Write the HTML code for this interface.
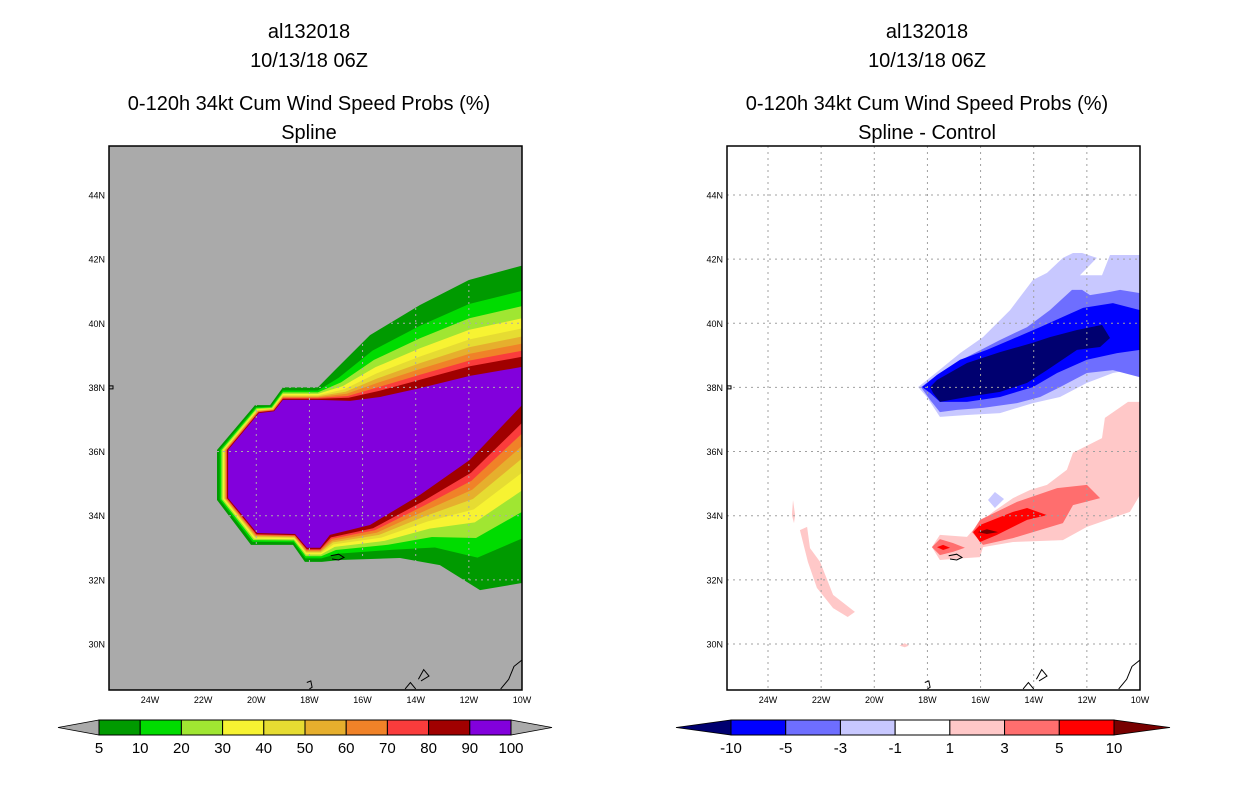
<!DOCTYPE html>
<html><head><meta charset="utf-8">
<style>
body{margin:0;background:#fff;width:1236px;height:800px;overflow:hidden;font-family:"Liberation Sans",sans-serif}
svg{position:absolute;left:0;top:0}
</style></head>
<body>
<svg id="s" width="1236" height="800">
<g font-family="Liberation Sans, sans-serif" font-size="20" text-anchor="middle" fill="#000">
<text x="309" y="38">al132018</text>
<text x="309" y="67">10/13/18 06Z</text>
<text x="309" y="110">0-120h 34kt Cum Wind Speed Probs (%)</text>
<text x="309" y="139">Spline</text>
<text x="927" y="38">al132018</text>
<text x="927" y="67">10/13/18 06Z</text>
<text x="927" y="110">0-120h 34kt Cum Wind Speed Probs (%)</text>
<text x="927" y="139">Spline - Control</text>
</g>
</svg>
<script>
// ---- data ----
const lonTicks=[24,22,20,18,16,14,12,10];
const latTicks=[44,42,40,38,36,34,32,30];
const probLevels=['5','10','20','30','40','50','60','70','80','90','100'];
const probColors=['#009a00','#00dc00','#a0e632','#f7f332','#e6dc32','#e6af2d','#f08228','#fa3c3c','#a00000','#8200dc'];
// relative position of each contour between the 5% and 90% envelopes
const probBandPos=[0,0.25,0.4,0.52,0.62,0.7,0.77,0.84,0.9,1];
const diffLevels=['-10','-5','-3','-1','1','3','5','10'];
const diffColors=['#0000ff','#6e6eff','#c8c8ff','#ffffff','#ffc8c8','#ff6e6e','#ff0000'];
// outer (5%) and inner (90%) contours, [lonW, lat]
const outer5=[[10,41.8],[12,41.35],[13.84,40.57],[15.72,39.63],[17.04,38.54],[17.68,38],[19,38],[19.48,37.45],[20.05,37.45],[21.48,36.05],[21.48,34.49],[20.2,33.09],[18.62,33.09],[18.17,32.56],[17.53,32.56],[16.85,32.62],[14.59,32.68],[13.09,32.46],[11.58,31.68],[10,31.9]];
const inner90=[[10,38.64],[11.96,38.36],[13.84,37.98],[15.34,37.7],[16.47,37.58],[17.68,37.61],[19,37.61],[19.33,37.26],[19.9,37.2],[21.06,36.05],[21.06,34.55],[19.97,33.46],[18.54,33.43],[18.09,33],[17.6,33],[17.23,33.4],[15.72,33.71],[13.84,34.65],[11.96,35.74],[10,37.45]];
const diffNeg1=[[18.35,38.01],[17.64,38.48],[16.77,39.07],[15.91,39.57],[14.89,40.41],[14.03,41.35],[13.5,41.57],[12.9,42.04],[12.52,42.19],[12.18,42.19],[11.62,42.04],[12.26,41.5],[11.43,41.5],[11.13,42.13],[10,42.13],[10,38.61],[11.02,38.45],[12,38.14],[13.01,37.7],[14.03,37.51],[15.27,37.2],[16.51,37.14],[17.53,37.08],[18.02,37.7]];
const diffNeg3=[[18.24,38.01],[17.53,38.45],[16.51,38.95],[15.27,39.48],[14.25,39.88],[13.39,40.41],[12.56,41.04],[12.18,41.04],[11.88,40.88],[11.13,40.98],[10.75,41.04],[10,40.94],[10,38.32],[11.02,38.54],[12,38.45],[13.01,38.01],[13.76,37.7],[14.63,37.51],[15.91,37.36],[16.89,37.3],[17.53,37.23],[17.9,37.61]];
const diffNeg5=[[18.2,38.01],[17.64,38.39],[16.77,38.86],[15.76,39.17],[14.89,39.48],[13.76,39.88],[12.9,40.2],[12.14,40.48],[11.02,40.63],[10,40.41],[10,39.17],[10.86,39.07],[12,38.86],[13.12,38.45],[14.03,38.01],[15.27,37.7],[16.51,37.55],[17.53,37.55],[17.9,37.83]];
const diffNeg10=[[17.9,38.01],[17.64,38.23],[16.51,38.76],[15.27,39.1],[14.03,39.39],[13.39,39.57],[12.37,39.79],[11.43,39.95],[11.13,39.54],[11.5,39.26],[12.37,39.17],[13.5,38.54],[14.25,38.14],[15.27,37.86],[16.51,37.7],[17.53,37.55],[17.79,37.83]];
const diffNegSmall=[[15.72,34.49],[15.46,34.74],[15.12,34.52],[15.46,34.24]];
const diffPos1=[[10,37.55],[10.45,37.55],[11.32,37.05],[11.43,36.42],[12.52,35.96],[12.75,35.43],[13.5,34.96],[14.14,34.8],[14.78,34.55],[15.53,34.12],[16.02,33.8],[16.51,33.34],[17.53,33.4],[17.83,33.02],[17.53,32.62],[16.51,32.68],[16.02,32.71],[15.91,33.02],[14.78,33.18],[12.9,33.24],[12,33.65],[10.38,34.12],[10,34.65]];
const diffPos1b=[[23.06,34.49],[22.98,34.02],[23.02,33.77],[23.1,34.02]];
const diffPos1c=[[22.8,33.55],[22.53,33.65],[22.42,32.99],[22.04,32.56],[21.55,31.53],[20.73,31.0],[21.0,30.84],[21.55,31.12],[22.16,31.75],[22.5,32.56]];
const diffPos1d=[[19.05,29.95],[18.85,30.02],[18.7,29.95],[18.85,29.9]];
const diffPos3=[[16.32,33.49],[16.02,33.87],[14.63,34.43],[13.12,34.86],[12,34.96],[11.5,34.55],[12.52,34.33],[12.9,33.77],[14.03,33.49],[14.78,33.3],[15.91,33.09]];
const diffPos3b=[[17.83,33.02],[17.53,33.27],[17.04,33.15],[16.59,33.0],[17.04,32.87],[17.53,32.77]];
const diffPos5=[[16.28,33.49],[16.02,33.71],[14.78,34.12],[14.25,34.24],[13.5,34.02],[14.25,33.87],[15.38,33.4],[16.02,33.18]];
const diffPos5b=[[17.64,33.02],[17.41,33.09],[17.15,33.0],[17.41,32.93]];
const diffPos10=[[16.1,33.49],[15.76,33.58],[15.34,33.49],[15.76,33.43]];

const NS='http://www.w3.org/2000/svg';
const svg=document.getElementById('s');
const X0=109,X1=522,Y0=146,Y1=690;
function xs(w,off){return off+150+(24-w)*26.571;}
function ys(lat){return 195+(44-lat)*32.07;}
function mk(tag,attrs,parent){const e=document.createElementNS(NS,tag);for(const k in attrs)e.setAttribute(k,attrs[k]);(parent||svg).appendChild(e);return e;}
function pts(arr,off){return arr.map(p=>xs(p[0],off).toFixed(1)+','+ys(p[1]).toFixed(1)).join(' ');}

function panel(off,bg,name){
  const g=mk('g',{});
  
  
  const cp=mk('clipPath',{id:'c'+off},g);
  mk('rect',{x:X0+off,y:Y0,width:X1-X0,height:Y1-Y0},cp);
  const r=mk('rect',{x:X0+off,y:Y0,width:X1-X0,height:Y1-Y0,fill:bg},g);
  
  
  const inner=mk('g',{'clip-path':'url(#c'+off+')'},g);
  return inner;
}
function grid(g,off,color){
  lonTicks.forEach(w=>{if(w>10&&w<24.6){const l=mk('line',{x1:xs(w,off),x2:xs(w,off),y1:Y0,y2:Y1,stroke:color,'stroke-width':1,'stroke-dasharray':'2,4'},g);
  
  }});
  latTicks.forEach(l0=>{const l=mk('line',{x1:X0+off,x2:X1+off,y1:ys(l0),y2:ys(l0),stroke:color,'stroke-width':1,'stroke-dasharray':'2,4'},g);
  
  });
}
function coast(g,off){
  const c=[[[17.2,32.75],[16.9,32.8],[16.7,32.7],[16.9,32.62],[17.15,32.65]],[[18.1,28.8],[17.95,28.85],[17.9,28.65],[18.0,28.6]],[[13.9,28.9],[13.7,29.2],[13.5,29.0],[13.8,28.85]],[[14.4,28.6],[14.2,28.8],[14.0,28.6]],[[10,29.5],[10.3,29.3],[10.5,28.9],[10.8,28.6]]];
  c.forEach(a=>{const p=mk('polyline',{points:pts(a,off),fill:'none',stroke:'#000','stroke-width':1},g);
  
  });
  const az=mk('path',{d:`M${X0+off} ${ys(38.05)} l4 0 l0 3 l-4 0`,fill:'none',stroke:'#000'},g);
  
  
}
function frame(off){
  const f=mk('rect',{x:X0+off,y:Y0,width:X1-X0,height:Y1-Y0,fill:'none',stroke:'#000','stroke-width':1.5});
  
  
  latTicks.forEach(l0=>{const t=mk('text',{x:X0+off-4,y:ys(l0)+3.5,'font-size':9,'text-anchor':'end','font-family':'Liberation Sans, sans-serif'});t.textContent=l0+'N';
  
  });
  lonTicks.forEach(w=>{const t=mk('text',{x:xs(w,off),y:Y1+13,'font-size':9,'text-anchor':'middle','font-family':'Liberation Sans, sans-serif'});t.textContent=w+'W';
  
  });
}
// ---- left panel ----
const gl=panel(0,'#aaaaaa','left-map');
probColors.forEach((c,k)=>{
  const t=probBandPos[k];
  const a=outer5.map((p,i)=>[p[0]+(inner90[i][0]-p[0])*t,p[1]+(inner90[i][1]-p[1])*t]);
  const p=mk('polygon',{points:pts(a,0),fill:c},gl);
  
  
});
grid(gl,0,'#aaaaaa');coast(gl,0);frame(0);
// ---- right panel ----
const OFF=618;
const gr=panel(OFF,'#ffffff','right-map');
const shapes=[[diffNeg1,'#c8c8ff','diff-neg1'],[diffNeg3,'#6e6eff','diff-neg3'],[diffNeg5,'#0000ff','diff-neg5'],[diffNeg10,'#000070','diff-neg10'],[diffNegSmall,'#c8c8ff','diff-neg1-small'],
[diffPos1,'#ffc8c8','diff-pos1'],[diffPos1b,'#ffc8c8','diff-pos1-sliver'],[diffPos1c,'#ffc8c8','diff-pos1-band'],[diffPos1d,'#ffc8c8','diff-pos1-spot'],[diffPos3,'#ff6e6e','diff-pos3'],[diffPos3b,'#ff6e6e','diff-pos3-small'],[diffPos5,'#ff0000','diff-pos5'],[diffPos5b,'#ff0000','diff-pos5-small'],[diffPos10,'#780000','diff-pos10']];
shapes.forEach(s=>{const p=mk('polygon',{points:pts(s[0],OFF),fill:s[1]},gr);
  
  });
grid(gr,OFF,'#a0a0a0');coast(gr,OFF);frame(OFF);
// ---- colorbars ----
function colorbar(x0,x1,tl,tr,colors,labels,lc,rc,name){
  const g=mk('g',{});
  
  
  const y0=720,y1=735,n=colors.length,w=(x1-x0)/n;
  const a=mk('polygon',{points:`${tl},727.5 ${x0},${y0} ${x0},${y1}`,fill:lc,stroke:'#000','stroke-width':0.8},g);
  
  
  const b=mk('polygon',{points:`${tr},727.5 ${x1},${y0} ${x1},${y1}`,fill:rc,stroke:'#000','stroke-width':0.8},g);
  
  
  colors.forEach((c,i)=>{const r=mk('rect',{x:x0+i*w,y:y0,width:w,height:y1-y0,fill:c,stroke:'#000','stroke-width':1},g);
    
    });
  labels.forEach((l,i)=>{const t=mk('text',{x:x0+i*w,y:753,'font-size':15,'text-anchor':'middle','font-family':'Liberation Sans, sans-serif'},g);t.textContent=l;
    
    });
}
colorbar(99,511,58,552,probColors,probLevels,'#aaaaaa','#aaaaaa','prob-colorbar');
colorbar(731,1114,676,1170,diffColors,diffLevels,'#000070','#780000','diff-colorbar');
</script>
</body></html>
